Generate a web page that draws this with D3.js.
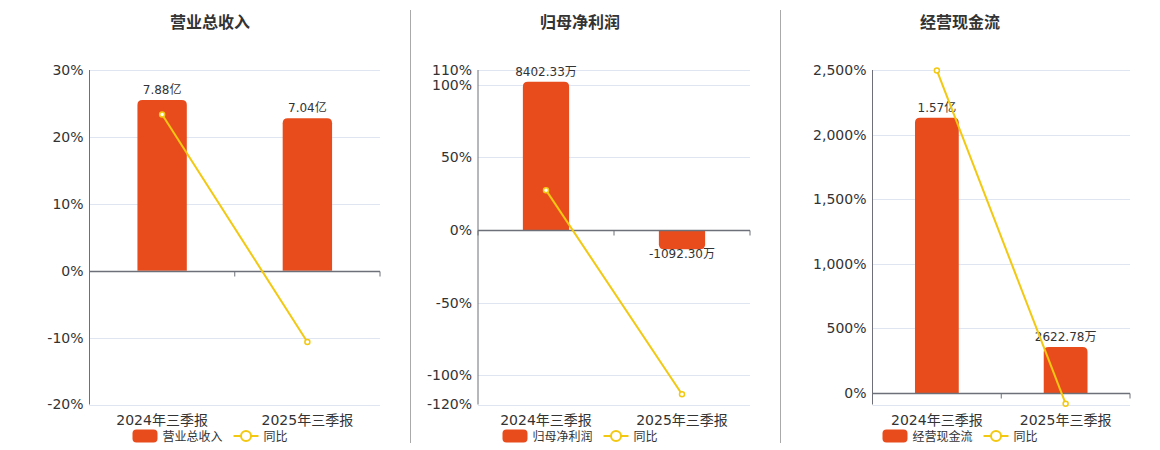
<!DOCTYPE html>
<html>
<head>
<meta charset="utf-8">
<script src="https://cdn.jsdelivr.net/npm/d3@7"></script>
<style>
  body { margin: 0; background: #fff; }
  svg { font-family: "DejaVu Sans", "Noto Sans CJK SC", sans-serif; }
</style>
</head>
<body>
<div class="finance-viz"></div>
<script>
// categories shared by all three charts
const periods = ["2024年三季报", "2025年三季报"];

// chart titles / legend names
const titles = ["营业总收入", "归母净利润", "经营现金流"];

// bar values (万元) and their labels
const revenue = [78800, 70400];
const netProfit = [8402.33, -1092.30];
const cashFlow = [15700, 2622.78];
const barLabels = [
    ["7.88亿", "7.04亿"],
    ["8402.33万", "-1092.30万"],
    ["1.57亿", "2622.78万"]
];

// year-on-year growth (%)
const revenueYoy = [23.36, -10.66];
const netProfitYoy = [27.4, -113.0];
const cashFlowYoy = [2497, -83.3];

// left axis ticks (%)
const revenueTicks = [-20, -10, 0, 10, 20, 30];
const netProfitTicks = [-120, -100, -50, 0, 50, 100, 110];
const cashFlowTicks = [0, 500, 1000, 1500, 2000, 2500];

// axis ranges (%) and hidden bar axis max (万元)
const yoyDomains = [[-20, 30], [-120, 110], [-90, 2500]];
const barAxisMax = [92650, 9065, 18420];

const barValues = [revenue, netProfit, cashFlow];
const yoyValues = [revenueYoy, netProfitYoy, cashFlowYoy];
const tickValues = [revenueTicks, netProfitTicks, cashFlowTicks];

// layout of each panel
const panels = [
    {left: 89.5, right: 380, center: 210},
    {left: 478, right: 750, center: 580},
    {left: 872.5, right: 1130, center: 960}
];
const plotTop = 70, plotBottom = 404.5;

const barColor = "#e84c1d";
const lineColor = "#f2c811";

// plain hyphen for negatives, comma thousands
const locale = d3.formatLocale({decimal: ".", thousands: ",", grouping: [3], currency: ["", ""], minus: "-"});
const fmt = locale.format(",");

const svg = d3.select(".finance-viz")
  .append("svg")
    .attr("width", 1160)
    .attr("height", 450);

// separators between charts
[410.5, 780.5].forEach(x => {
    svg.append("line")
        .attr("x1", x).attr("x2", x)
        .attr("y1", 10).attr("y2", 443)
        .attr("stroke", "#aaa")
        .attr("stroke-width", 1);
});

panels.forEach((p, i) => {
    const g = svg.append("g");

    const x = d3.scaleBand()
        .domain(periods)
        .range([p.left, p.right])
        .padding(0);

    const y = d3.scaleLinear()
        .domain(yoyDomains[i])
        .range([plotBottom, plotTop]);

    // hidden bar axis, zero lined up with the % axis
    const [lo, hi] = yoyDomains[i];
    const yBar = d3.scaleLinear()
        .domain([barAxisMax[i] * lo / hi, barAxisMax[i]])
        .range([plotBottom, plotTop]);

    // title
    g.append("text")
        .attr("x", p.center)
        .attr("y", 28)
        .attr("text-anchor", "middle")
        .attr("font-size", 16)
        .attr("font-weight", "bold")
        .attr("fill", "#333")
        .text(titles[i]);

    // grid lines
    const gridVals = tickValues[i].concat([lo]);
    g.append("g")
        .selectAll("line")
        .data(gridVals)
        .join("line")
          .attr("x1", p.left).attr("x2", p.right)
          .attr("y1", d => Math.round(y(d)) + 0.5)
          .attr("y2", d => Math.round(y(d)) + 0.5)
          .attr("stroke", "#e0e6f1");

    // left axis
    const yAxis = g.append("g")
        .attr("transform", `translate(${p.left},0)`)
        .call(d3.axisLeft(y).tickValues(tickValues[i]).tickSize(0).tickPadding(6)
            .tickFormat(d => fmt(d) + "%"));
    yAxis.select(".domain").attr("stroke", "#6e7079").attr("d", `M0,${plotTop}V${plotBottom}`);
    yAxis.selectAll("text")
        .attr("font-size", 14)
        .attr("font-family", "DejaVu Sans, Noto Sans CJK SC, sans-serif")
        .attr("fill", "#333");

    // bars
    g.append("g")
        .selectAll("path")
        .data(barValues[i])
        .join("path")
          .attr("fill", barColor)
          .attr("d", (d, j) => {
              const bw = x.bandwidth() * 0.34;
              const x0 = x(periods[j]) + (x.bandwidth() - bw) / 2;
              const y0 = yBar(0), y1 = yBar(d);
              const r = Math.min(5, Math.abs(y1 - y0));
              if (d >= 0) {
                  return `M${x0},${y0}V${y1 + r}Q${x0},${y1} ${x0 + r},${y1}H${x0 + bw - r}` +
                         `Q${x0 + bw},${y1} ${x0 + bw},${y1 + r}V${y0}Z`;
              }
              return `M${x0},${y0}V${y1 - r}Q${x0},${y1} ${x0 + r},${y1}H${x0 + bw - r}` +
                     `Q${x0 + bw},${y1} ${x0 + bw},${y1 - r}V${y0}Z`;
          });

    // bar labels
    g.append("g")
        .selectAll("text")
        .data(barValues[i])
        .join("text")
          .attr("x", (d, j) => x(periods[j]) + x.bandwidth() / 2)
          .attr("y", d => d >= 0 ? yBar(d) - 6 : yBar(d) + 9)
          .attr("text-anchor", "middle")
          .attr("font-size", 12)
          .attr("fill", "#333")
          .text((d, j) => barLabels[i][j]);

    // zero line with category ticks
    const zy = Math.round(y(0)) + 0.5;
    g.append("line")
        .attr("x1", p.left).attr("x2", p.right)
        .attr("y1", zy).attr("y2", zy)
        .attr("stroke", "#6e7079")
        .attr("stroke-width", 1.5);
    g.append("g")
        .selectAll("line")
        .data([p.left, (p.left + p.right) / 2, p.right])
        .join("line")
          .attr("x1", d => d).attr("x2", d => d)
          .attr("y1", zy).attr("y2", zy + 5)
          .attr("stroke", "#6e7079");

    // category labels
    g.append("g")
        .selectAll("text")
        .data(periods)
        .join("text")
          .attr("x", d => x(d) + x.bandwidth() / 2)
          .attr("y", 425)
          .attr("text-anchor", "middle")
          .attr("font-size", 14)
          .attr("fill", "#333")
          .text(d => d);

    // yoy line
    const line = d3.line()
        .x((d, j) => x(periods[j]) + x.bandwidth() / 2)
        .y(d => y(d));
    g.append("path")
        .datum(yoyValues[i])
        .attr("fill", "none")
        .attr("stroke", lineColor)
        .attr("stroke-width", 2)
        .attr("d", line);
    g.append("g")
        .selectAll("circle")
        .data(yoyValues[i])
        .join("circle")
          .attr("cx", (d, j) => x(periods[j]) + x.bandwidth() / 2)
          .attr("cy", d => y(d))
          .attr("r", 2.5)
          .attr("fill", "#fff")
          .attr("stroke", lineColor)
          .attr("stroke-width", 1.5);

    // legend
    const lx = p.center - 77.5, ly = 436;
    const legend = g.append("g");
    legend.append("rect")
        .attr("x", lx).attr("y", ly - 6.5)
        .attr("width", 25).attr("height", 13)
        .attr("rx", 4)
        .attr("fill", barColor);
    legend.append("text")
        .attr("x", lx + 30).attr("y", ly + 4.5)
        .attr("font-size", 12)
        .attr("fill", "#333")
        .text(titles[i]);
    legend.append("line")
        .attr("x1", lx + 101).attr("x2", lx + 126)
        .attr("y1", ly).attr("y2", ly)
        .attr("stroke", lineColor)
        .attr("stroke-width", 2);
    legend.append("circle")
        .attr("cx", lx + 113.5).attr("cy", ly)
        .attr("r", 5)
        .attr("fill", "#fff")
        .attr("stroke", lineColor)
        .attr("stroke-width", 2);
    legend.append("text")
        .attr("x", lx + 131).attr("y", ly + 4.5)
        .attr("font-size", 12)
        .attr("fill", "#333")
        .text("同比");
});
</script>
</body>
</html>
